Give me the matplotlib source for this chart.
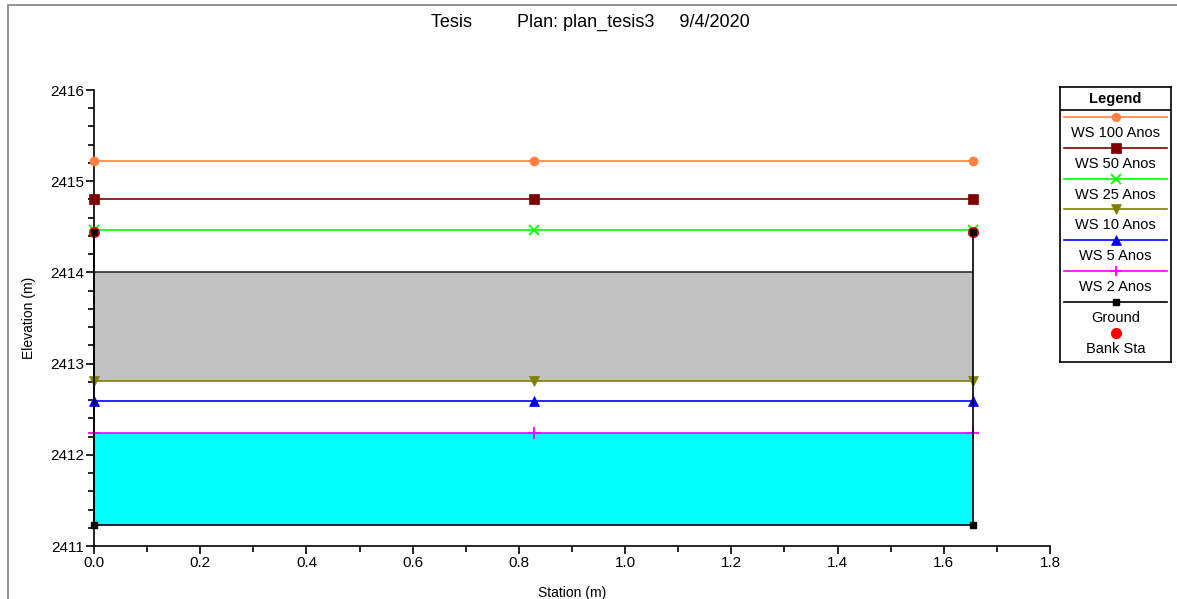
import numpy as np
import matplotlib.pyplot as plt
from matplotlib.patches import Rectangle
from matplotlib.ticker import MultipleLocator

plt.rcParams['font.family'] = ['Liberation Sans', 'DejaVu Sans']

# cross section data
station = [0.0, 0.828, 1.655]
ground_sta = [0.0, 0.0, 1.655, 1.655]
ground_elev = [2414.44, 2411.23, 2411.23, 2414.44]
bank_sta = [0.0, 1.655]
bank_elev = [2414.44, 2414.44]
deck_top = 2414.0

profiles = ['WS 100 Anos', 'WS 50 Anos', 'WS 25 Anos', 'WS 10 Anos', 'WS 5 Anos', 'WS 2 Anos']
ws_elev = [2415.22, 2414.81, 2414.47, 2412.81, 2412.59, 2412.24]
ws_colors = ['#FF8040', '#800000', '#00FF00', '#808000', '#0000FF', '#FF00FF']
ws_markers = ['o', 's', 'x', 'v', '^', '+']
ws_msize = [6.5, 7, 7, 7.5, 7.5, 8]

fig = plt.figure(figsize=(11.77, 5.99), dpi=100)

# outer frame
fig.patches.append(Rectangle((8 / 1177, -0.1), 1.2, 1.1 - 5 / 599, transform=fig.transFigure,
                             fill=False, edgecolor='#808080', linewidth=1.2))

ax = fig.add_axes([94 / 1177, 53 / 599, 956 / 1177, 456 / 599])

# water in the channel for the lowest profile
ax.fill_between([ground_sta[1], ground_sta[2]], ground_elev[1], ws_elev[5],
                color='#00FFFF', linewidth=0, zorder=1)
# deck block
ax.fill_between([ground_sta[1], ground_sta[2]], ws_elev[3], deck_top,
                color='#C0C0C0', linewidth=0, zorder=1)
ax.plot([ground_sta[1], ground_sta[2]], [deck_top, deck_top], color='#303030', lw=1.2, zorder=2)

# water surface profiles
for elev, c, m, ms in zip(ws_elev, ws_colors, ws_markers, ws_msize):
    ax.plot(station, [elev] * len(station), color=c, lw=1.2, marker=m, ms=ms,
            mew=1.3 if m in ('x', '+') else 0.5, mec=c, zorder=4, clip_on=False)

# ground
ax.plot(ground_sta, ground_elev, color='black', lw=1.2, marker='s', ms=5, zorder=5, clip_on=False)
ax.plot(bank_sta, bank_elev, 'o', color='red', ms=7, zorder=4, clip_on=False)

ax.set_xlim(0, 1.8)
ax.set_ylim(2411, 2416)
ax.xaxis.set_major_locator(MultipleLocator(0.2))
ax.xaxis.set_minor_locator(MultipleLocator(0.1))
ax.yaxis.set_major_locator(MultipleLocator(1))
ax.yaxis.set_minor_locator(MultipleLocator(0.2))
ax.xaxis.set_major_formatter(lambda v, p: f'{v:.1f}')
ax.yaxis.set_major_formatter(lambda v, p: f'{v:.0f}')
for s in ['top', 'right']:
    ax.spines[s].set_visible(False)
for s in ['left', 'bottom']:
    ax.spines[s].set_linewidth(1.2)
ax.tick_params(which='major', length=6, width=1.2, labelsize=11, pad=1)
ax.tick_params(which='minor', length=4, width=1.2)
ax.set_xlabel('Station (m)', fontsize=10, labelpad=12)
ax.set_ylabel('Elevation (m)', fontsize=10, labelpad=10)

fig.text(590 / 1177, 1 - 22 / 599, 'Tesis         Plan: plan_tesis3     9/4/2020',
         ha='center', va='center', fontsize=13)

# legend panel drawn in pixel coordinates
lg = fig.add_axes([1060 / 1177, (599 - 362) / 599, 111 / 1177, 275 / 599])
lg.set_xlim(0, 111)
lg.set_ylim(275, 0)
lg.set_xticks([])
lg.set_yticks([])
for s in lg.spines.values():
    s.set_linewidth(1.2)
lg.plot([0, 111], [23, 23], color='black', lw=1.2)
lg.text(55.5, 12, 'Legend', ha='center', va='center', fontsize=10.5, fontweight='bold')

entry_names = profiles + ['Ground', 'Bank Sta']
y0 = 30
step = 30.8
for i, name in enumerate(entry_names):
    yl = y0 + i * step
    if i < len(profiles):
        c, m = ws_colors[i], ws_markers[i]
        lg.plot([4, 107], [yl, yl], color=c, lw=1.2)
        lg.plot([55.5], [yl], marker=m, color=c, ms=ws_msize[i] * 0.95,
                mew=1.3 if m in ('x', '+') else 0.5, mec=c)
    elif name == 'Ground':
        lg.plot([4, 107], [yl, yl], color='black', lw=1.2)
        lg.plot([55.5], [yl], marker='s', color='black', ms=5)
    else:
        lg.plot([55.5], [yl], marker='o', color='red', ms=7)
    lg.text(55.5, yl + 16, name, ha='center', va='center', fontsize=10.5)

fig.savefig('out.png', dpi=100)
